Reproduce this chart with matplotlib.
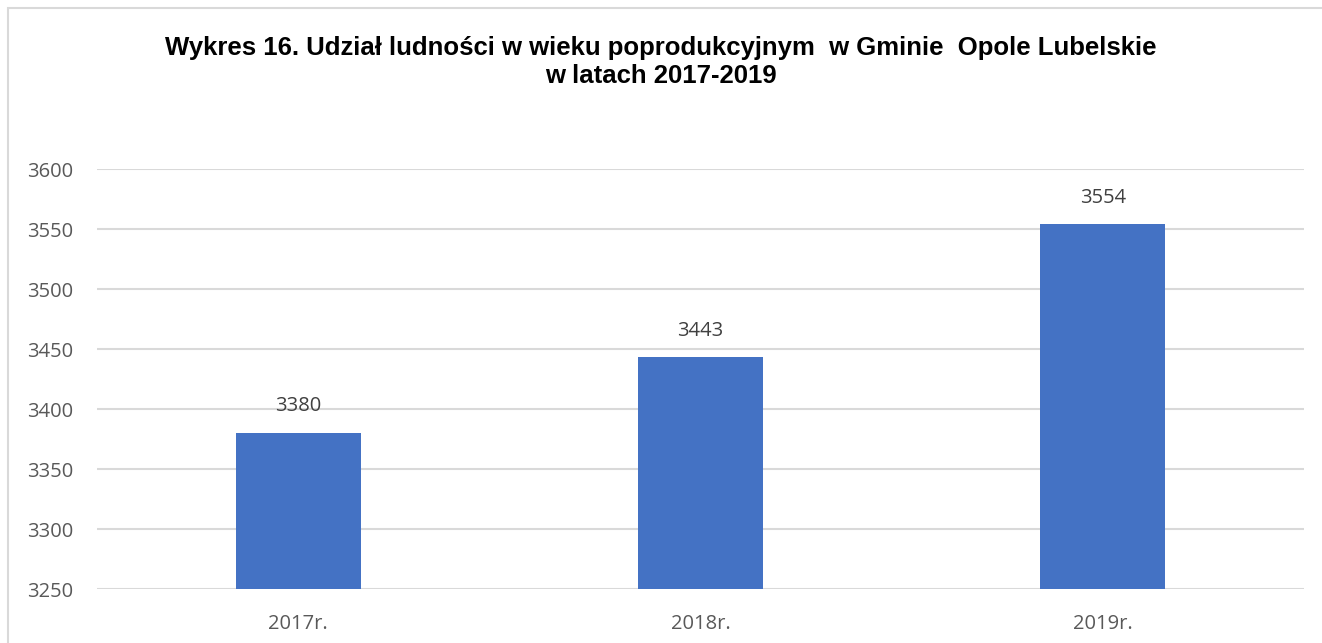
import matplotlib
matplotlib.use('Agg')
import matplotlib.pyplot as plt
from matplotlib.patches import Rectangle

# data
years = ['2017r.', '2018r.', '2019r.']
values = [3380, 3443, 3554]
yticks = [3250, 3300, 3350, 3400, 3450, 3500, 3550, 3600]

title_lines = ['Wykres 16. Udział ludności w wieku poprodukcyjnym  w Gminie  Opole Lubelskie',
               'w latach 2017-2019']

W, H = 1322, 643
fig = plt.figure(figsize=(W / 100, H / 100), dpi=100)
fig.patch.set_facecolor('white')

# chart frame (clipped at right/bottom like the screenshot)
fig.patches.append(Rectangle((8 / W, -0.1), 1.2, 1 - 8 / H + 0.1,
                             transform=fig.transFigure, fill=False,
                             edgecolor='#d9d9d9', linewidth=1.5))

ax = fig.add_axes([97 / W, 1 - 589 / H, (1304 - 97) / W, (589 - 169) / H])

x = range(len(years))
ax.bar(x, values, width=0.31, color='#4472c4', zorder=2)
for i, v in enumerate(values):
    ax.annotate(str(v), (i, v), xytext=(0, 12), textcoords='offset points',
                ha='center', va='bottom', fontsize=14.5, family='Open Sans',
                color='#404040')

ax.set_ylim(3250, 3600)
ax.set_xlim(-0.5, 2.5)
ax.set_yticks(yticks)
ax.set_xticks(list(x))
ax.set_xticklabels(years)
ax.yaxis.grid(True, color='#d9d9d9', linewidth=1.5, zorder=0)
ax.set_axisbelow(True)
for s in ax.spines.values():
    s.set_visible(False)
ax.tick_params(axis='both', length=0, labelsize=14.5, labelcolor='#595959')
ax.tick_params(axis='y', pad=17)
ax.tick_params(axis='x', pad=18)
for lab in ax.get_xticklabels() + ax.get_yticklabels():
    lab.set_family('Open Sans')

# title, two lines placed by baseline
for line, base in zip(title_lines, [55, 83]):
    fig.text(0.5, 1 - base / H, line, ha='center', va='baseline', fontsize=18.5,
             fontweight='bold', family='Liberation Sans')

fig.savefig('out.png', dpi=100)
